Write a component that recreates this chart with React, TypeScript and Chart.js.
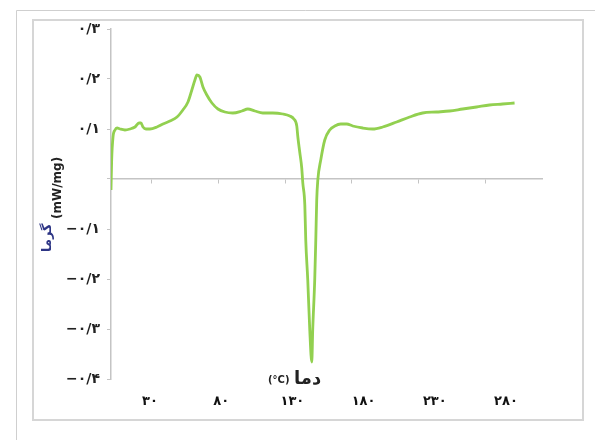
import React, { useEffect, useRef } from 'react';
import { Chart, registerables } from 'chart.js';

Chart.register(...registerables);

// Temperature (°C) and heat flow (mW/mg)
const temperatures = [
  0, 0.5, 1.5, 3.0, 4.5, 6.7, 10.4, 14.2, 17.9, 20.9, 22.4, 23.9, 26.1, 29.1,
  34.3, 38.8, 44.0, 49.3, 53.7, 57.5, 60.4, 62.7, 64.2, 66.4, 68.7, 71.6, 75.4,
  79.9, 85.1, 91.0, 97.8, 102.2, 107.5, 113.4, 120.9, 128.4, 133.6, 136.6,
  138.8, 139.6, 141.0, 142.5, 143.3, 144.8, 145.5, 147.0, 148.5, 150.0, 150.7,
  152.2, 153.0, 153.7, 154.5, 156.7, 159.7, 163.4, 167.2, 171.6, 176.1, 180.6,
  188.1, 195.5, 203.0, 213.4, 223.1, 232.8, 243.3, 253.0, 262.7, 273.1, 282.8,
  292.5, 301.5,
];
const heatFlow = [
  -0.022, 0.038, 0.084, 0.098, 0.102, 0.1, 0.098, 0.1, 0.104, 0.112, 0.112,
  0.104, 0.1, 0.1, 0.104, 0.11, 0.116, 0.124, 0.138, 0.154, 0.178, 0.198, 0.208,
  0.204, 0.184, 0.168, 0.152, 0.14, 0.134, 0.132, 0.136, 0.14, 0.136, 0.132,
  0.132, 0.13, 0.126, 0.12, 0.106, 0.084, 0.054, 0.022, -0.008, -0.052, -0.122,
  -0.202, -0.302, -0.366, -0.302, -0.202, -0.122, -0.042, -0.002, 0.038, 0.078,
  0.098, 0.106, 0.11, 0.11, 0.106, 0.102, 0.1, 0.104, 0.114, 0.124, 0.132,
  0.134, 0.136, 0.14, 0.144, 0.148, 0.15, 0.152,
];

const xTickValues = [30, 80, 130, 180, 230, 280];
const xTickLabels = ['۳۰', '۸۰', '۱۳۰', '۱۸۰', '۲۳۰', '۲۸۰'];
const yTickValues = [0.3, 0.2, 0.1, 0, -0.1, -0.2, -0.3, -0.4];
const yTickLabels = ['۰/۳', '۰/۲', '۰/۱', '', '−۰/۱', '−۰/۲', '−۰/۳', '−۰/۴'];

const yTitleWord = 'گرما';
const yTitleUnit = '(mW/mg)';
const xTitleWord = 'دما';
const xTitleUnit = '(°C)';

const FONT = '"DejaVu Sans", sans-serif';

const framePlugin = {
  id: 'frame',
  beforeDraw(chart: any) {
    const ctx = chart.ctx as CanvasRenderingContext2D;
    ctx.save();
    ctx.fillStyle = '#ffffff';
    ctx.fillRect(0, 0, chart.width, chart.height);
    ctx.strokeStyle = '#cfcfcf';
    ctx.lineWidth = 1;
    ctx.beginPath();
    ctx.moveTo(16.5, 440);
    ctx.lineTo(16.5, 10.5);
    ctx.lineTo(595, 10.5);
    ctx.stroke();
    ctx.strokeStyle = '#d6d6d6';
    ctx.lineWidth = 2;
    ctx.strokeRect(33, 20, 550, 400);
    ctx.restore();
  },
  afterDraw(chart: any) {
    const ctx = chart.ctx as CanvasRenderingContext2D;
    ctx.save();
    ctx.textAlign = 'left';
    ctx.textBaseline = 'alphabetic';
    // y title (rotated)
    ctx.save();
    ctx.translate(51, 252);
    ctx.rotate(-Math.PI / 2);
    ctx.fillStyle = '#2d3585';
    ctx.font = `bold 13px ${FONT}`;
    ctx.fillText(yTitleWord, 0, 0);
    ctx.restore();
    ctx.save();
    ctx.translate(61, 219);
    ctx.rotate(-Math.PI / 2);
    ctx.fillStyle = '#222222';
    ctx.font = `bold 12px ${FONT}`;
    ctx.fillText(yTitleUnit, 0, 0);
    ctx.restore();
    // x title
    ctx.fillStyle = '#222222';
    ctx.font = `bold 10px ${FONT}`;
    ctx.fillText(xTitleUnit, 268, 383);
    ctx.font = `bold 18px ${FONT}`;
    ctx.fillText(xTitleWord, 294, 384);
    ctx.restore();
  },
};

export default function App() {
  const ref = useRef<HTMLCanvasElement | null>(null);

  useEffect(() => {
    if (!ref.current) return;
    const points = temperatures.map((t, i) => ({ x: t, y: heatFlow[i] }));
    const chart = new Chart(ref.current, {
      type: 'line',
      data: {
        datasets: [
          {
            data: points,
            borderColor: '#92d050',
            borderWidth: 2.8,
            pointRadius: 0,
            cubicInterpolationMode: 'monotone',
            fill: false,
            xAxisID: 'x',
            yAxisID: 'y',
          },
        ],
      },
      options: {
        animation: false,
        responsive: false,
        maintainAspectRatio: false,
        layout: { padding: { top: 29, left: 0, right: 53, bottom: 0 } },
        plugins: { legend: { display: false }, tooltip: { enabled: false } },
        scales: {
          x: {
            type: 'linear',
            position: { y: 0 } as any,
            min: 0,
            max: 322,
            afterBuildTicks: (s: any) => {
              s.ticks = xTickValues.map((v) => ({ value: v }));
            },
            ticks: { display: false },
            grid: {
              drawOnChartArea: false,
              drawTicks: true,
              tickLength: 4,
              color: '#c4c4c4',
              lineWidth: 1,
            },
            border: { display: true, color: '#c4c4c4', width: 1.5 },
          },
          xl: {
            type: 'linear',
            position: 'bottom',
            min: 2.6,
            max: 305.3,
            afterBuildTicks: (s: any) => {
              s.ticks = xTickValues.map((v) => ({ value: v }));
            },
            afterFit: (s: any) => {
              s.height = 61;
            },
            ticks: {
              padding: 15,
              color: '#111111',
              font: { family: FONT, size: 13, weight: 'bold' },
              maxRotation: 0,
              autoSkip: false,
              callback: (v: any) => {
                const i = xTickValues.indexOf(Number(v));
                return i >= 0 ? xTickLabels[i] : '';
              },
            },
            grid: { display: false, drawTicks: false, tickLength: 0 },
            border: { display: false },
          },
          y: {
            type: 'linear',
            position: 'left',
            min: -0.4,
            max: 0.3,
            afterBuildTicks: (s: any) => {
              s.ticks = yTickValues.map((v) => ({ value: v }));
            },
            afterFit: (s: any) => {
              s.width = 111;
            },
            ticks: {
              padding: 7,
              color: '#222222',
              font: { family: FONT, size: 14, weight: 'bold' },
              autoSkip: false,
              callback: (v: any) => {
                let best = 0;
                yTickValues.forEach((t, i) => {
                  if (Math.abs(t - Number(v)) < Math.abs(yTickValues[best] - Number(v))) best = i;
                });
                return yTickLabels[best];
              },
            },
            grid: {
              drawOnChartArea: false,
              drawTicks: true,
              tickLength: 4,
              color: '#c4c4c4',
              lineWidth: 1,
            },
            border: { display: true, color: '#c4c4c4', width: 1.5 },
          },
        },
      } as any,
      plugins: [framePlugin],
    });
    return () => chart.destroy();
  }, []);

  return (
    <div style={{ position: 'absolute', left: 0, top: 0, width: 595, height: 440 }}>
      <canvas ref={ref} width={595} height={440} style={{ display: 'block' }} />
    </div>
  );
}
